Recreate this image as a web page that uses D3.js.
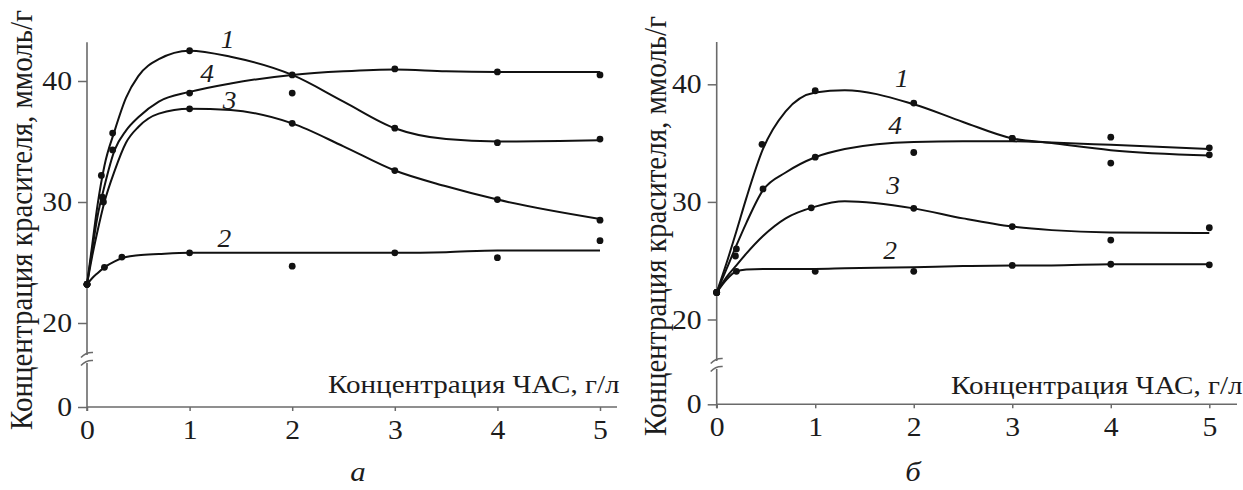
<!DOCTYPE html>
<html>
<head>
<meta charset="utf-8">
<script src="https://cdn.jsdelivr.net/npm/d3@7"></script>
<style>
body{margin:0;background:#fff}
svg{display:block}
text{font-family:"Liberation Serif","Times New Roman",serif;fill:#1c1c1c}
</style>
</head>
<body>
<svg></svg>
<script>
// axis texts and ticks
var xTicks = [0,1,2,3,4,5]
var yTicks = [0,20,30,40]
var xTitle = "Концентрация ЧАС, г/л"
var yTitle = "Концентрация красителя, ммоль/г"
var curveNames = ["1","2","3","4"]

// panel a: smoothed curves
var aFitX = [0,0.05,0.1,0.17,0.27,0.38,0.5,0.7,1,1.4,2,2.5,3,3.5,4,5]
var aFit1 = [23.2,26.4,29.6,33.0,35.9,38.6,40.4,41.8,42.5,42.0,40.5,38.3,36.1,35.2,35.0,35.1]
var aFit2 = [23.2,23.7,24.1,24.6,25.1,25.45,25.6,25.7,25.8,25.8,25.8,25.8,25.8,25.85,26.0,26.0]
var aFit3 = [23.2,25.5,27.5,30.0,32.6,34.9,36.2,37.3,37.7,37.6,36.5,34.6,32.6,31.3,30.2,28.6]
var aFit4 = [23.2,26.0,28.7,31.3,34.3,35.9,37.0,38.3,39.1,39.8,40.5,40.8,40.95,40.8,40.75,40.75]
// panel a: measured points
var aPtX1 = [0,0.14,0.25,1,2,3,4,5]
var aPtY1 = [23.2,32.2,35.7,42.5,40.5,36.1,34.9,35.2]
var aPtX2 = [0,0.17,0.34,1,2,3,4,5]
var aPtY2 = [23.2,24.6,25.45,25.8,24.7,25.8,25.4,26.8]
var aPtX3 = [0,0.16,1,2,3,4,5]
var aPtY3 = [23.2,30.0,37.7,36.5,32.6,30.2,28.5]
var aPtX4 = [0,0.15,0.25,1,2,3,4,5]
var aPtY4 = [23.2,30.4,34.3,39.0,39.0,41.0,40.75,40.5]
// panel a: curve number anchors (data units)
var aNameX = [1.37,1.34,1.39,1.17]
var aNameY = [42.7,26.3,37.7,39.95]

// panel b
var bFitX = [0,0.1,0.2,0.3,0.47,0.7,1,1.3,2,2.5,3,3.4,4,5]
var bFit1 = [22.3,24.8,27.5,30.3,34.5,37.7,39.3,39.5,38.3,36.8,35.4,35.0,34.4,33.95]
var bFit2 = [22.3,23.4,24.1,24.25,24.3,24.3,24.3,24.35,24.45,24.55,24.6,24.6,24.7,24.7]
var bFit3 = [22.3,23.6,24.6,25.6,27.1,28.6,29.6,30.05,29.45,28.6,27.9,27.6,27.4,27.35]
var bFit4 = [22.3,24.3,26.3,28.2,31.0,32.5,33.8,34.5,35.1,35.15,35.15,35.05,34.85,34.5]
var bPtX1 = [0,0.2,0.46,1,2,3,4,5]
var bPtY1 = [22.3,26.0,34.9,39.45,38.4,35.4,33.3,34.0]
var bPtX2 = [0,0.2,1,2,3,4,5]
var bPtY2 = [22.3,24.1,24.1,24.1,24.6,24.7,24.65]
var bPtX3 = [0,0.96,2,3,4,5]
var bPtY3 = [22.3,29.5,29.45,27.9,26.75,27.8]
var bPtX4 = [0,0.19,0.47,1,2,3,4,5]
var bPtY4 = [22.3,25.4,31.1,33.8,34.2,35.4,35.5,34.6]
var bNameX = [1.88,1.76,1.79,1.81]
var bNameY = [39.8,25.15,30.7,35.8]

var zip = function(xs, ys){ return xs.map(function(v,i){ return [v, ys[i]] }) }

var panels = [
  {tag:"а", fitX:aFitX, fits:[aFit1,aFit2,aFit3,aFit4],
   pts:[zip(aPtX1,aPtY1),zip(aPtX2,aPtY2),zip(aPtX3,aPtY3),zip(aPtX4,aPtY4)],
   names:zip(aNameX,aNameY),
   xr:[87,600], yr:[407,323,81], yMax:43.2, brk:359, xEnd:617,
   yTitleX:32, yTitleY:220, xTitleX:328, xTitleDy:-14, tagX:358},
  {tag:"б", fitX:bFitX, fits:[bFit1,bFit2,bFit3,bFit4],
   pts:[zip(bPtX1,bPtY1),zip(bPtX2,bPtY2),zip(bPtX3,bPtY3),zip(bPtX4,bPtY4)],
   names:zip(bNameX,bNameY),
   xr:[716.7,1209.3], yr:[404.3,319.5,84.3], yMax:43.6, brk:365, xEnd:1237,
   yTitleX:666, yTitleY:226, xTitleX:951, xTitleDy:-10, tagX:913}
]

// the original figure is a bit wider than tall, so text is stretched sideways
var sx = 1.1

var svg = d3.select("svg").attr("width",1243).attr("height",490)
svg.append("rect").attr("width",1243).attr("height",490).attr("fill","#fff")

var axisColor = "#6a6a6a"

var drawPanel = function(p)
{
    var g = svg.append("g")
    var xScale = d3.scaleLinear().domain([0,5]).range(p.xr)
    var yScale = d3.scaleLinear().domain([0,20,40]).range(p.yr)
    var ax = xScale(0), ay = yScale(0)

    // axes
    var yAxis = d3.axisLeft(yScale).tickValues(yTicks).tickFormat(d3.format("d"))
        .tickSize(9).tickPadding(6).tickSizeOuter(0)
    var xAxis = d3.axisBottom(xScale).tickValues(xTicks).tickFormat(d3.format("d"))
        .tickSize(4).tickPadding(9).tickSizeOuter(0)
    var ya = g.append("g").attr("transform","translate("+ax+",0)").call(yAxis)
    var xa = g.append("g").attr("transform","translate(0,"+ay+")").call(xAxis)
    ya.select(".domain").remove()
    xa.select(".domain").remove()
    ya.selectAll("line").attr("stroke",axisColor).attr("stroke-width",1.5)
    xa.selectAll("line").attr("stroke",axisColor).attr("stroke-width",1.5)
    ya.selectAll("text").attr("font-size",27).attr("fill","#1c1c1c")
      .attr("x",-15/sx).attr("transform","scale("+sx+",1)")
    xa.selectAll("text").attr("font-size",27).attr("fill","#1c1c1c")
      .attr("transform","scale("+sx+",1)")

    g.append("line").attr("x1",ax).attr("x2",ax)
     .attr("y1",yScale(p.yMax)).attr("y2",ay+4)
     .attr("stroke",axisColor).attr("stroke-width",1.6)
    g.append("line").attr("x1",ax).attr("x2",p.xEnd)
     .attr("y1",ay).attr("y2",ay)
     .attr("stroke",axisColor).attr("stroke-width",1.6)

    // axis break
    g.append("rect").attr("x",ax-3).attr("y",p.brk-4).attr("width",6).attr("height",8).attr("fill","#fff")
    ;[-4,4].forEach(function(o){
        g.append("path")
         .attr("d","M"+(ax-6)+","+(p.brk+o+2.5)+" Q"+(ax-1)+","+(p.brk+o-3)+" "+(ax+6)+","+(p.brk+o-2.5))
         .attr("fill","none").attr("stroke",axisColor).attr("stroke-width",1.5)
    })

    // curves
    var line = d3.line().x(function(d){ return xScale(d[0]) }).y(function(d){ return yScale(d[1]) })
        .curve(d3.curveMonotoneX)
    p.fits.forEach(function(f){
        g.append("path").datum(zip(p.fitX,f)).attr("d",line)
         .attr("fill","none").attr("stroke","#111").attr("stroke-width",2)
    })

    // points
    p.pts.forEach(function(s){
        g.selectAll(null).data(s).enter().append("circle")
         .attr("cx",function(d){ return xScale(d[0]) })
         .attr("cy",function(d){ return yScale(d[1]) })
         .attr("r",3.4).attr("fill","#111")
    })

    // curve numbers
    g.selectAll(null).data(p.names).enter().append("text")
     .attr("transform",function(d){ return "translate("+xScale(d[0])+","+yScale(d[1])+") scale("+sx+",1)" })
     .attr("text-anchor","middle").attr("font-style","italic").attr("font-size",25)
     .text(function(d,i){ return curveNames[i] })

    // titles
    g.append("text").attr("transform","translate("+p.yTitleX+","+p.yTitleY+") rotate(-90) scale(1,1.1)")
     .attr("text-anchor","middle").attr("font-size",29).text(yTitle)
    g.append("text").attr("transform","translate("+p.xTitleX+","+(ay+p.xTitleDy)+") scale(1.12,1)")
     .attr("font-size",26).text(xTitle)
    g.append("text").attr("transform","translate("+p.tagX+",481) scale("+sx+",1)")
     .attr("text-anchor","middle").attr("font-style","italic").attr("font-size",28).text(p.tag)
}

panels.forEach(drawPanel)
</script>
</body>
</html>
